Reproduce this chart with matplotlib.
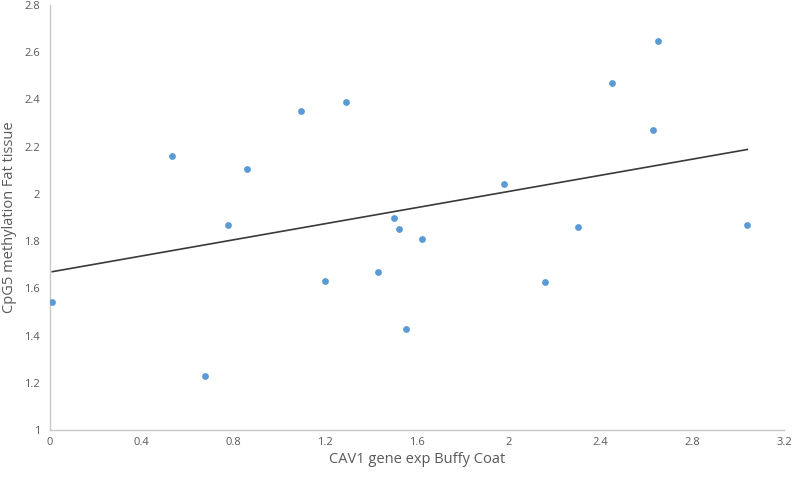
import numpy as np
import matplotlib
matplotlib.use("Agg")
import matplotlib.pyplot as plt

x_vals = [0.01, 0.53, 0.676, 0.776, 0.858, 1.094, 1.29, 1.199, 1.43, 1.50,
          1.52, 1.55, 1.62, 1.98, 2.16, 2.30, 2.45, 2.63, 2.65, 3.04]
y_vals = [1.54, 2.16, 1.229, 1.869, 2.106, 2.352, 2.39, 1.631, 1.669, 1.898,
          1.85, 1.428, 1.81, 2.04, 1.627, 1.86, 2.47, 2.27, 2.648, 1.868]
x_ticks = [0, 0.4, 0.8, 1.2, 1.6, 2, 2.4, 2.8, 3.2]
y_ticks = [1, 1.2, 1.4, 1.6, 1.8, 2, 2.2, 2.4, 2.6, 2.8]
x_tick_labels = ["0", "0.4", "0.8", "1.2", "1.6", "2", "2.4", "2.8", "3.2"]
y_tick_labels = ["1", "1.2", "1.4", "1.6", "1.8", "2", "2.2", "2.4", "2.6", "2.8"]

plt.rcParams['font.family'] = ['Open Sans', 'DejaVu Sans']

fig = plt.figure(figsize=(8, 4.79), dpi=100)
ax = fig.add_axes([0.0625, 0.1023, 0.9175, 0.8873])

x = np.array(x_vals)
y = np.array(y_vals)
ax.scatter(x, y, s=24, color='#5B9BD5', zorder=3, linewidths=0)

m, b = np.polyfit(x, y, 1)
xl = np.array([x.min(), x.max()])
ax.plot(xl, m * xl + b, color='#3a3a3a', lw=1.2, zorder=2)

ax.set_xlim(0, 3.2)
ax.set_ylim(1, 2.8)
ax.set_xticks(x_ticks)
ax.set_xticklabels(x_tick_labels)
ax.set_yticks(y_ticks)
ax.set_yticklabels(y_tick_labels)
ax.tick_params(length=0, colors='#595959', labelsize=8)
ax.tick_params(axis='x', pad=5)
ax.tick_params(axis='y', pad=7)
for s in ['top', 'right']:
    ax.spines[s].set_visible(False)
for s in ['left', 'bottom']:
    ax.spines[s].set_color('#c8c8c8')
    ax.spines[s].set_linewidth(1.0)

ax.set_xlabel("CAV1 gene exp Buffy Coat", fontsize=10.5, color='#595959', labelpad=3)
ax.set_ylabel("CpG5 methylation Fat tissue", fontsize=10.5, color='#595959')
ax.yaxis.label.set_va('center')
ax.yaxis.set_label_coords(-40 / 734, 0.5)

fig.savefig("out.png", dpi=100)
